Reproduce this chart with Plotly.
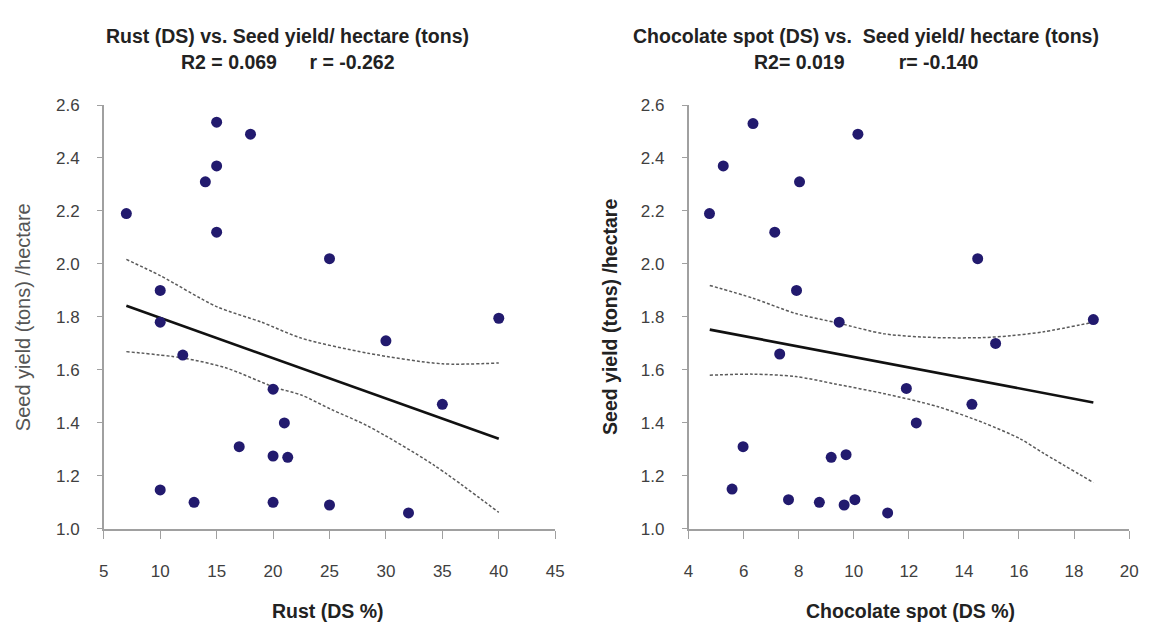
import plotly.graph_objects as go

# ---- data ----
rust_x = [15, 18, 15, 14, 7, 15, 25, 10, 10, 40, 30, 35, 25, 32, 12, 20, 21, 17, 20, 21.3, 10, 13, 20]
rust_y = [2.535, 2.49, 2.37, 2.31, 2.19, 2.12, 2.02, 1.90, 1.78, 1.795, 1.71, 1.47, 1.09, 1.06,
          1.656, 1.527, 1.40, 1.31, 1.275, 1.27, 1.147, 1.10, 1.10]
rust_fit_x = [7, 40]
rust_fit_y = [1.842, 1.34]
rust_up_x = [7, 10, 15, 19, 22.5, 28.4, 35, 40]
rust_up_y = [2.017, 1.956, 1.839, 1.78, 1.72, 1.663, 1.623, 1.626]
rust_lo_x = [7, 12, 15.8, 20.1, 22.5, 25.2, 28.4, 34.2, 40]
rust_lo_y = [1.669, 1.645, 1.608, 1.535, 1.505, 1.45, 1.388, 1.242, 1.062]

choc_x = [6.34, 5.26, 10.15, 8.03, 4.76, 7.13, 7.92, 9.47, 7.31, 11.91, 12.27, 5.98, 9.18, 9.72,
          5.58, 7.63, 8.75, 9.65, 10.04, 11.23, 14.5, 15.15, 14.29, 18.7]
choc_y = [2.53, 2.37, 2.49, 2.31, 2.19, 2.12, 1.90, 1.78, 1.66, 1.53, 1.40, 1.31, 1.27, 1.28,
          1.15, 1.11, 1.10, 1.09, 1.11, 1.06, 2.02, 1.70, 1.47, 1.79]
choc_fit_x = [4.77, 18.7]
choc_fit_y = [1.752, 1.477]
choc_up_x = [4.77, 6.33, 7.89, 9.43, 11.12, 13.0, 14.7, 15.7, 16.9, 18.7]
choc_up_y = [1.919, 1.871, 1.813, 1.777, 1.736, 1.722, 1.722, 1.729, 1.744, 1.78]
choc_lo_x = [4.77, 6.33, 7.89, 9.32, 11.12, 13.03, 14.72, 16.04, 16.9, 18.7]
choc_lo_y = [1.580, 1.584, 1.575, 1.547, 1.510, 1.462, 1.40, 1.34, 1.285, 1.175]

title_left = ["Rust (DS) vs. Seed yield/ hectare (tons)", "R2 = 0.069      r = -0.262"]
title_right = ["Chocolate spot (DS) vs.  Seed yield/ hectare (tons)", "R2= 0.019          r= -0.140"]
xlabel_left = "Rust (DS %)"
xlabel_right = "Chocolate spot (DS %)"
ylabel = "Seed yield (tons) /hectare"
rust_ticks = [5, 10, 15, 20, 25, 30, 35, 40, 45]
choc_ticks = [4, 6, 8, 10, 12, 14, 16, 18, 20]
y_ticks = [1.0, 1.2, 1.4, 1.6, 1.8, 2.0, 2.2, 2.4, 2.6]

W, H = 1149, 630
DOT = "#221a6e"
FONT = "Liberation Sans, Arial, sans-serif"

fig = go.Figure()

panels = [
    (rust_x, rust_y, rust_fit_x, rust_fit_y, rust_up_x, rust_up_y, rust_lo_x, rust_lo_y, "x", "y"),
    (choc_x, choc_y, choc_fit_x, choc_fit_y, choc_up_x, choc_up_y, choc_lo_x, choc_lo_y, "x2", "y2"),
]
for (xs, ys, fx, fy, ux, uy, lx, ly, xa, ya) in panels:
    for bx, by in ((ux, uy), (lx, ly)):
        fig.add_trace(go.Scatter(x=bx, y=by, mode="lines", xaxis=xa, yaxis=ya,
                                 line=dict(color="#5a5a5a", width=1.5, dash="3px,2px",
                                           shape="spline", smoothing=0.8),
                                 showlegend=False, hoverinfo="skip"))
    fig.add_trace(go.Scatter(x=fx, y=fy, mode="lines", xaxis=xa, yaxis=ya,
                             line=dict(color="#111111", width=2.6), showlegend=False))
    fig.add_trace(go.Scatter(x=xs, y=ys, mode="markers", xaxis=xa, yaxis=ya,
                             marker=dict(color=DOT, size=11, line=dict(width=0)),
                             showlegend=False))

tickfont = dict(family=FONT, size=17, color="#404040")
axis_common = dict(showgrid=False, zeroline=False, showline=True, linecolor="#a0a0a0",
                   linewidth=1.5, ticks="outside", tickcolor="#a0a0a0", tickfont=tickfont)


def px_x(p):
    return p / W


def px_y(p):
    return 1 - p / H


fig.update_layout(
    width=W, height=H, plot_bgcolor="white", paper_bgcolor="white",
    margin=dict(l=0, r=0, t=0, b=0),
    xaxis=dict(domain=[px_x(100), px_x(557)], range=[5, 45], tickvals=rust_ticks,
               anchor="y", ticklen=8, ticklabelstandoff=18, **axis_common),
    yaxis=dict(domain=[px_y(536), px_y(99)], range=[1.0, 2.6], tickvals=y_ticks,
               tickformat=".1f", anchor="x", ticklen=5, ticklabelstandoff=14, **axis_common),
    xaxis2=dict(domain=[px_x(692), px_x(1138)], range=[4, 20], tickvals=choc_ticks,
                anchor="y2", ticklen=8, ticklabelstandoff=18, **axis_common),
    yaxis2=dict(domain=[px_y(536), px_y(99)], range=[1.0, 2.6], tickvals=y_ticks,
                tickformat=".1f", anchor="x2", ticklen=5, ticklabelstandoff=14, **axis_common),
)

ann = []
bold = dict(family=FONT, size=19.5, color="#222222")
for cx, lines in [(286, title_left), (872, title_right)]:
    ann.append(dict(x=px_x(cx), y=px_y(28), xref="paper", yref="paper", showarrow=False,
                    text="<b>%s</b>" % lines[0], font=bold, xanchor="center", yanchor="middle"))
    ann.append(dict(x=px_x(cx), y=px_y(55), xref="paper", yref="paper", showarrow=False,
                    text="<b>%s</b>" % lines[1], font=bold, xanchor="center", yanchor="middle"))
ann.append(dict(x=px_x(327), y=px_y(621), xref="paper", yref="paper", showarrow=False,
                text="<b>%s</b>" % xlabel_left, font=bold, xanchor="center", yanchor="middle"))
ann.append(dict(x=px_x(917), y=px_y(621), xref="paper", yref="paper", showarrow=False,
                text="<b>%s</b>" % xlabel_right, font=bold, xanchor="center", yanchor="middle"))
ann.append(dict(x=px_x(19), y=px_y(318), xref="paper", yref="paper", showarrow=False,
                text=ylabel, textangle=-90,
                font=dict(family=FONT, size=20, color="#555555"), xanchor="center", yanchor="middle"))
ann.append(dict(x=px_x(613), y=px_y(318), xref="paper", yref="paper", showarrow=False,
                text="<b>%s</b>" % ylabel, textangle=-90,
                font=dict(family=FONT, size=19.5, color="#222222"),
                xanchor="center", yanchor="middle"))
fig.update_layout(annotations=ann)

fig.write_html("out.html", config={"displayModeBar": False},
               post_script="document.body.style.margin='0px';")
